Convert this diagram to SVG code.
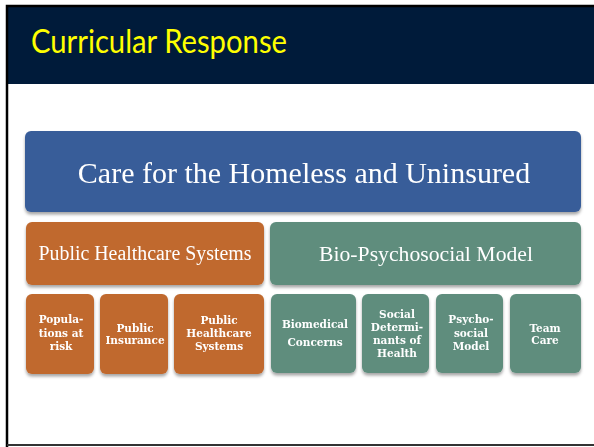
<svg xmlns="http://www.w3.org/2000/svg" width="594" height="447" viewBox="0 0 594 447">
<defs>
<filter id="sh" x="-10%" y="-10%" width="130%" height="140%">
<feDropShadow dx="0" dy="2.5" stdDeviation="1.8" flood-color="#000" flood-opacity="0.35"/>
</filter>
</defs>
<style>
.blue{fill:#385D99}
.org{fill:#C0692F}
.grn{fill:#5E8D7D}
.big{font-family:"Liberation Serif",serif;fill:#fff;text-anchor:middle}
.sm{font-family:"DejaVu Serif",serif;font-weight:bold;font-size:10.5px;fill:#fff;text-anchor:middle}
</style>
<rect x="0" y="0" width="594" height="447" fill="#fff"/>
<rect x="8" y="7" width="586" height="77" fill="#001B3A"/>
<path d="M7 447 V6 H594" fill="none" stroke="#000" stroke-width="2.5"/>
<line x1="7" y1="445" x2="594" y2="445" stroke="#333" stroke-width="2"/>
<text x="31" y="53" font-family="Lato, sans-serif" font-size="32" fill="#FFFF00" textLength="256" lengthAdjust="spacingAndGlyphs">Curricular Response</text>

<g id="care" filter="url(#sh)">
<rect class="blue" x="25" y="131" width="556" height="81" rx="6"/>
<text class="big" x="304" y="183" font-size="30">Care for the Homeless and Uninsured</text>
</g>
<g id="phs" filter="url(#sh)">
<rect class="org" x="26" y="222" width="238" height="63" rx="6"/>
<text class="big" x="145" y="260" font-size="20.5" textLength="213" lengthAdjust="spacingAndGlyphs">Public Healthcare Systems</text>
</g>
<g id="bps" filter="url(#sh)">
<rect class="grn" x="270" y="222" width="311" height="63" rx="6"/>
<text class="big" x="426" y="261" font-size="21" textLength="214" lengthAdjust="spacingAndGlyphs">Bio-Psychosocial Model</text>
</g>

<g id="pop" filter="url(#sh)">
<rect class="org" x="26" y="294" width="68" height="80" rx="6"/>
<text class="sm" x="61" y="323">Popula-</text>
<text class="sm" x="61" y="337">tions at</text>
<text class="sm" x="61" y="350">risk</text>
</g>
<g id="pin" filter="url(#sh)">
<rect class="org" x="100" y="294" width="68" height="80" rx="6"/>
<text class="sm" x="135" y="332">Public</text>
<text class="sm" x="135" y="344">Insurance</text>
</g>
<g id="phs2" filter="url(#sh)">
<rect class="org" x="174" y="294" width="90" height="80" rx="6"/>
<text class="sm" x="219" y="324">Public</text>
<text class="sm" x="219" y="337">Healthcare</text>
<text class="sm" x="219" y="350">Systems</text>
</g>
<g id="bio" filter="url(#sh)">
<rect class="grn" x="271" y="294" width="85" height="79" rx="6"/>
<text class="sm" x="315" y="328">Biomedical</text>
<text class="sm" x="315" y="346">Concerns</text>
</g>
<g id="sdh" filter="url(#sh)">
<rect class="grn" x="362" y="294" width="67" height="79" rx="6"/>
<text class="sm" x="397" y="318">Social</text>
<text class="sm" x="397" y="331">Determi-</text>
<text class="sm" x="397" y="344">nants of</text>
<text class="sm" x="397" y="357">Health</text>
</g>
<g id="psm" filter="url(#sh)">
<rect class="grn" x="436" y="294" width="67" height="79" rx="6"/>
<text class="sm" x="471" y="323">Psycho-</text>
<text class="sm" x="471" y="337">social</text>
<text class="sm" x="471" y="350">Model</text>
</g>
<g id="team" filter="url(#sh)">
<rect class="grn" x="510" y="294" width="71" height="79" rx="6"/>
<text class="sm" x="545" y="332">Team</text>
<text class="sm" x="545" y="344">Care</text>
</g>
<g id="connectors"></g>
</svg>
